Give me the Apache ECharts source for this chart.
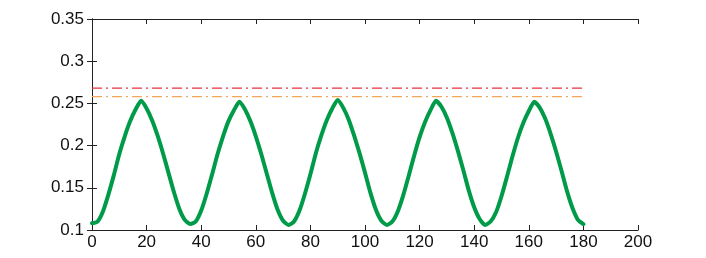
<!DOCTYPE html>
<html>
<head>
<meta charset="utf-8">
<script src="https://cdn.jsdelivr.net/npm/echarts@6/dist/echarts.min.js"></script>
<style>html,body{margin:0;padding:0;background:#fff;}#c{width:706px;height:258px;}</style>
</head>
<body>
<div id="c"></div>
<script>
var xs = [0,2,4,6,8,10,12,14,16,18,20,22,24,26,28,30,32,34,36,
  38,40,42,44,46,48,50,52,54,56,58,60,62,64,66,68,70,72,
  74,76,78,80,82,84,86,88,90,92,94,96,98,100,102,104,106,108,
  110,112,114,116,118,120,122,124,126,128,130,132,134,136,138,140,142,144,
  146,148,150,152,154,156,158,160,162,164,166,168,170,172,174,176,178,180];
var greenValues = [0.108,0.110,0.122,0.142,0.165,0.190,0.211,0.229,0.243,0.253,0.244,0.230,0.212,0.191,0.168,0.145,0.125,0.112,0.107,
  0.110,0.123,0.143,0.166,0.190,0.211,0.229,0.242,0.252,0.243,0.229,0.211,0.190,0.167,0.144,0.124,0.111,0.106,
  0.110,0.123,0.143,0.166,0.191,0.212,0.230,0.244,0.254,0.245,0.231,0.212,0.191,0.168,0.144,0.124,0.111,0.106,
  0.110,0.122,0.141,0.164,0.188,0.210,0.228,0.242,0.253,0.246,0.233,0.215,0.194,0.171,0.147,0.127,0.113,0.106,
  0.110,0.121,0.140,0.163,0.187,0.209,0.227,0.241,0.252,0.245,0.232,0.214,0.193,0.170,0.146,0.126,0.112,0.107];
var redLevel = 0.268;
var orangeLevel = 0.258;
var levelRange = [0, 180];
var xTicks = {min: 0, max: 200, step: 20};
var yTicks = {min: 0.1, max: 0.35, step: 0.05};

var greenData = xs.map(function(x, i){ return [x, greenValues[i]]; });
var redData = levelRange.map(function(x){ return [x, redLevel]; });
var orangeData = levelRange.map(function(x){ return [x, orangeLevel]; });

var font = '"Liberation Sans", Arial, Helvetica, sans-serif';
var axisLine = {show: true, lineStyle: {color: '#222', width: 1}};
var axisTick = {show: true, inside: true, length: 5, lineStyle: {color: '#222', width: 1}};

var chart = echarts.init(document.getElementById('c'), null, {renderer: 'canvas'});
chart.setOption({
  animation: false,
  backgroundColor: '#fff',
  grid: {left: 92, top: 19, right: 68, bottom: 28, containLabel: false},
  xAxis: [{
    type: 'value', min: xTicks.min, max: xTicks.max, interval: xTicks.step,
    position: 'bottom',
    axisLine: axisLine, axisTick: axisTick, splitLine: {show: false},
    axisLabel: {color: '#111', fontSize: 17, fontFamily: font, margin: 4}
  }, {
    type: 'value', min: xTicks.min, max: xTicks.max, interval: xTicks.step,
    position: 'top',
    axisLine: axisLine, axisTick: axisTick, splitLine: {show: false},
    axisLabel: {show: false}
  }],
  yAxis: [{
    type: 'value', min: yTicks.min, max: yTicks.max, interval: yTicks.step,
    position: 'left',
    axisLine: axisLine, axisTick: axisTick, splitLine: {show: false},
    axisLabel: {color: '#111', fontSize: 17, fontFamily: font, margin: 8,
      formatter: function(v){ return String(+v.toFixed(2)); }}
  }, {
    type: 'value', min: yTicks.min, max: yTicks.max, interval: yTicks.step,
    position: 'right',
    axisLine: axisLine, axisTick: axisTick, splitLine: {show: false},
    axisLabel: {show: false}
  }],
  series: [{
    type: 'line', data: redData, symbol: 'none', silent: true,
    lineStyle: {color: '#e8323c', width: 1.3, type: [10, 4, 2, 4]}
  }, {
    type: 'line', data: orangeData, symbol: 'none', silent: true,
    lineStyle: {color: '#f5a65b', width: 1.3, type: [10, 4, 2, 4]}
  }, {
    type: 'line', data: greenData, symbol: 'none', smooth: 0.2, silent: true,
    lineStyle: {color: '#009b48', width: 4, cap: 'round', join: 'round'}
  }]
});
</script>
</body>
</html>
